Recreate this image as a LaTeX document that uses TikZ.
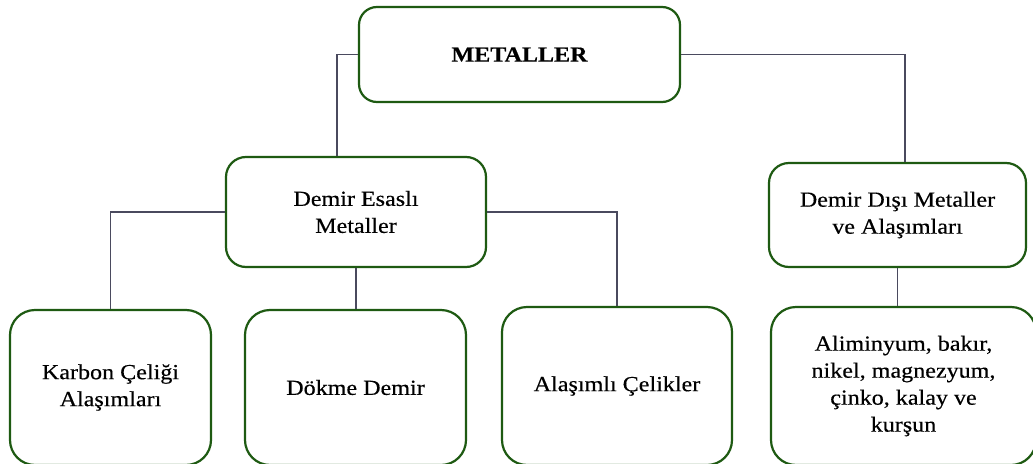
\documentclass[tikz,border=0pt]{standalone}
\usepackage{fontspec}
\setmainfont[FakeStretch=1.12,FakeBold=0.4]{Liberation Serif}
\definecolor{boxgreen}{HTML}{1E5A12}
\definecolor{linkgray}{HTML}{4A4A5E}
\begin{document}
\begin{tikzpicture}[x=1pt,y=-1pt,
  box/.style={draw=boxgreen, fill=white, line width=2.2pt, rounded corners=20pt,
    align=center, inner sep=0pt, font=\fontsize{21.5}{27}\selectfont},
  link/.style={draw=linkgray, line width=1.4pt}]
\useasboundingbox (0,0) rectangle (1033,463);
\clip (0,0) rectangle (1033,463);
\fill[white] (0,0) rectangle (1033,463);
\node[box, minimum width=321pt, minimum height=95pt, font=\fontsize{21.5}{27}\selectfont\bfseries, rounded corners=18pt] (top) at (519.5,54.5) {METALLER};
\node[box, minimum width=260pt, minimum height=110pt] (fe) at (356,212) {Demir Esaslı\\Metaller};
\node[box, minimum width=257pt, minimum height=104pt] (nf) at (897.5,215) {Demir Dışı Metaller\\ve Alaşımları};
\node[box, minimum width=201pt, minimum height=155pt, rounded corners=25pt] (karbon) at (110.5,387.5) {Karbon Çeliği\\Alaşımları};
\node[box, minimum width=221pt, minimum height=155pt, rounded corners=25pt] (dokme) at (355.5,387.5) {Dökme Demir};
\node[box, minimum width=230pt, minimum height=158pt, rounded corners=25pt] (alas) at (617,386) {Alaşımlı Çelikler};
\node[box, minimum width=265pt, minimum height=158pt, rounded corners=25pt] (alim) at (903.5,386) {Aliminyum, bakır,\\nikel, magnezyum,\\çinko, kalay ve\\kurşun};
\draw[link] (top.west) -| ([xshift=-19pt]fe.north);
\draw[link] (top.east) -| ([xshift=7.5pt]nf.north);
\draw[link] (fe.west) -| (karbon.north);
\draw[link] (fe.south) -- (fe.south |- dokme.north);
\draw[link] (fe.east) -| (alas.north);
\draw[link] (nf.south) -- (nf.south |- alim.north);
\end{tikzpicture}
\end{document}
